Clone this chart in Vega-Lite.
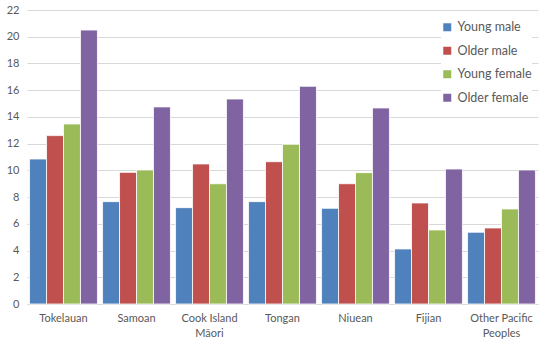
{
  "$schema": "https://vega.github.io/schema/vega-lite/v6.json",
  "width": 511,
  "height": 294,
  "autosize": {"type": "none"},
  "padding": {"left": 27, "top": 10, "right": 3, "bottom": 41},
  "config": {"view": {"stroke": null}, "font": "Lato"},
  "data": {"values": [
    {"group": "Tokelauan", "series": "Young male", "value": 10.85},
    {"group": "Tokelauan", "series": "Older male", "value": 12.6},
    {"group": "Tokelauan", "series": "Young female", "value": 13.47},
    {"group": "Tokelauan", "series": "Older female", "value": 20.5},
    {"group": "Samoan", "series": "Young male", "value": 7.66},
    {"group": "Samoan", "series": "Older male", "value": 9.85},
    {"group": "Samoan", "series": "Young female", "value": 10.03},
    {"group": "Samoan", "series": "Older female", "value": 14.75},
    {"group": "Cook Island Māori", "series": "Young male", "value": 7.21},
    {"group": "Cook Island Māori", "series": "Older male", "value": 10.48},
    {"group": "Cook Island Māori", "series": "Young female", "value": 9.0},
    {"group": "Cook Island Māori", "series": "Older female", "value": 15.34},
    {"group": "Tongan", "series": "Young male", "value": 7.66},
    {"group": "Tongan", "series": "Older male", "value": 10.65},
    {"group": "Tongan", "series": "Young female", "value": 11.95},
    {"group": "Tongan", "series": "Older female", "value": 16.29},
    {"group": "Niuean", "series": "Young male", "value": 7.16},
    {"group": "Niuean", "series": "Older male", "value": 9.0},
    {"group": "Niuean", "series": "Young female", "value": 9.83},
    {"group": "Niuean", "series": "Older female", "value": 14.67},
    {"group": "Fijian", "series": "Young male", "value": 4.12},
    {"group": "Fijian", "series": "Older male", "value": 7.56},
    {"group": "Fijian", "series": "Young female", "value": 5.54},
    {"group": "Fijian", "series": "Older female", "value": 10.1},
    {"group": "Other Pacific Peoples", "series": "Young male", "value": 5.37},
    {"group": "Other Pacific Peoples", "series": "Older male", "value": 5.69},
    {"group": "Other Pacific Peoples", "series": "Young female", "value": 7.11},
    {"group": "Other Pacific Peoples", "series": "Older female", "value": 10.03}
  ]},
  "mark": {"type": "bar", "stroke": "white", "strokeWidth": 0.8},
  "encoding": {
    "x": {
      "field": "group", "type": "nominal", "sort": null,
      "scale": {"paddingInner": 0.07, "paddingOuter": 0.035},
      "axis": {
        "title": null, "labelAngle": 0, "ticks": false,
        "domainColor": "#D9D9D9", "labelColor": "#595959", "labelFontSize": 11,
        "labelPadding": 8, "labelLineHeight": 15,
        "labelExpr": "datum.label == 'Cook Island Māori' ? ['Cook Island', 'Māori'] : datum.label == 'Other Pacific Peoples' ? ['Other Pacific', 'Peoples'] : datum.label"
      }
    },
    "xOffset": {
      "field": "series", "type": "nominal",
      "sort": ["Young male", "Older male", "Young female", "Older female"]
    },
    "y": {
      "field": "value", "type": "quantitative",
      "scale": {"domain": [0, 22], "nice": false},
      "axis": {
        "title": null, "values": [0, 2, 4, 6, 8, 10, 12, 14, 16, 18, 20, 22],
        "ticks": false, "domain": false, "gridColor": "#D9D9D9",
        "labelColor": "#595959", "labelFontSize": 11, "labelPadding": 8
      }
    },
    "color": {
      "field": "series", "type": "nominal",
      "sort": ["Young male", "Older male", "Young female", "Older female"],
      "scale": {"range": ["#4F81BD", "#C0504D", "#9BBB59", "#8064A2"]},
      "legend": {
        "title": null, "orient": "none", "legendX": 414, "legendY": 11,
        "symbolType": "square", "symbolSize": 64, "symbolStrokeWidth": 0,
        "labelFontSize": 12.5, "labelColor": "#595959", "rowPadding": 10.5,
        "labelOffset": 4, "fillColor": "white"
      }
    }
  }
}
